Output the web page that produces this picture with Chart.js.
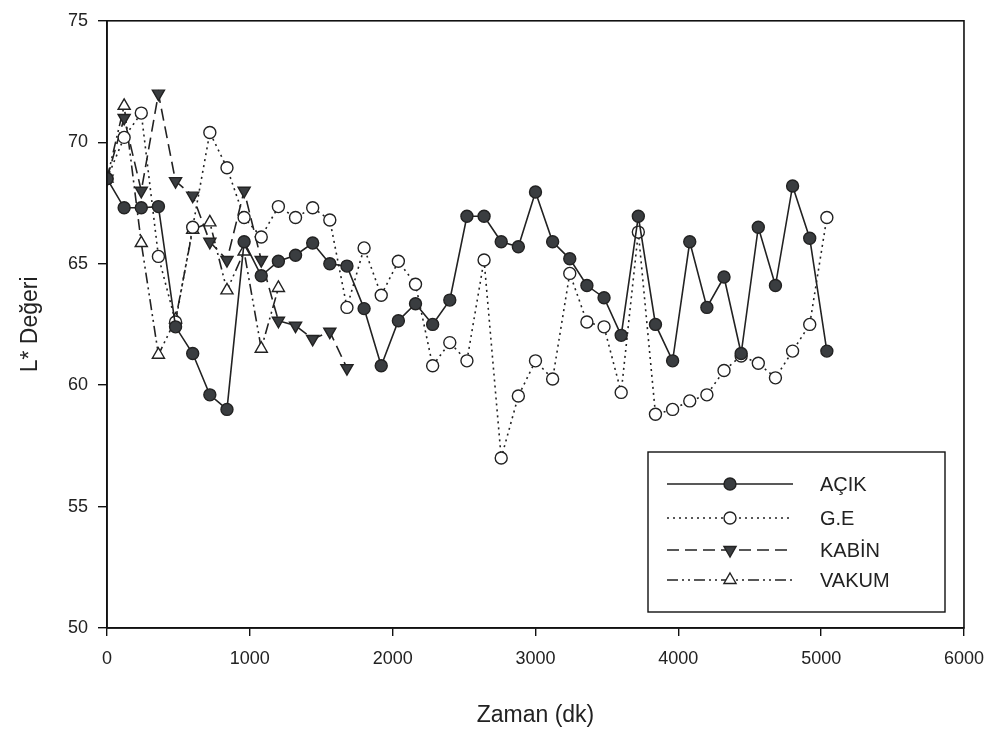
<!DOCTYPE html>
<html>
<head>
<meta charset="utf-8">
<script src="https://cdn.jsdelivr.net/npm/chart.js@4/dist/chart.umd.min.js"></script>
<style>
  html, body { margin: 0; padding: 0; background: #fff; }
  #wrap { width: 996px; height: 736px; }
</style>
</head>
<body>
<div id="wrap"><canvas id="lChart" width="996" height="736"></canvas></div>
<script>
// zaman (dk)
const zaman = [0, 120, 240, 360, 480, 600, 720, 840, 960, 1080, 1200, 1320, 1440, 1560, 1680,
  1800, 1920, 2040, 2160, 2280, 2400, 2520, 2640, 2760, 2880, 3000, 3120, 3240, 3360, 3480,
  3600, 3720, 3840, 3960, 4080, 4200, 4320, 4440, 4560, 4680, 4800, 4920, 5040];

const acik = [68.5, 67.3, 67.3, 67.35, 62.4, 61.3, 59.6, 59.0, 65.9, 64.5, 65.1, 65.35, 65.85, 65.0, 64.9,
  63.15, 60.8, 62.65, 63.35, 62.5, 63.5, 66.95, 66.95, 65.9, 65.7, 67.95, 65.9, 65.2, 64.1, 63.6,
  62.05, 66.95, 62.5, 61.0, 65.9, 63.2, 64.45, 61.3, 66.5, 64.1, 68.2, 66.05, 61.4];

const ge = [68.5, 70.2, 71.2, 65.3, 62.6, 66.5, 70.4, 68.95, 66.9, 66.1, 67.35, 66.9, 67.3, 66.8, 63.2,
  65.65, 63.7, 65.1, 64.15, 60.8, 61.75, 61.0, 65.15, 57.0, 59.55, 61.0, 60.25, 64.6, 62.6, 62.4,
  59.7, 66.3, 58.8, 59.0, 59.35, 59.6, 60.6, 61.2, 60.9, 60.3, 61.4, 62.5, 66.9];

const kabin = [68.5, 71.0, 68.0, 72.0, 68.4, 67.8, 65.9, 65.15, 68.0, 65.15, 62.65, 62.45, 61.9, 62.2, 60.7];

const vakum = [68.5, 71.5, 65.85, 61.25, 62.7, 66.4, 66.7, 63.9, 65.5, 61.5, 64.0];

const seriAdlari = ['AÇIK', 'G.E', 'KABİN', 'VAKUM'];
const xTicks = [0, 1000, 2000, 3000, 4000, 5000, 6000];
const yTicks = [50, 55, 60, 65, 70, 75];

const ink = '#222';
const fontAile = "'Liberation Sans', Arial, sans-serif";

function noktalar(deger) {
  return deger.map((v, i) => ({ x: zaman[i], y: v }));
}

const stiller = [
  { dash: [], style: 'circle', rot: 0, fill: '#3a3d40', r: 6 },
  { dash: [2, 4], style: 'circle', rot: 0, fill: '#fff', r: 6 },
  { dash: [12, 6], style: 'triangle', rot: 180, fill: '#3a3d40', r: 7 },
  { dash: [11, 4, 2, 4, 2, 4], style: 'triangle', rot: 0, fill: '#fff', r: 7 }
];

const veriler = [acik, ge, kabin, vakum];

const datasets = veriler.map((d, i) => ({
  label: seriAdlari[i],
  data: noktalar(d),
  showLine: true,
  borderColor: ink,
  borderWidth: 1.6,
  borderDash: stiller[i].dash,
  pointStyle: stiller[i].style,
  rotation: stiller[i].rot,
  pointRadius: stiller[i].r,
  pointBackgroundColor: stiller[i].fill,
  pointBorderColor: ink,
  pointBorderWidth: 1.4,
  tension: 0,
  fill: false
}));

// cerceve + lejant
const cercevePlugin = {
  id: 'cerceve',
  afterDraw(chart) {
    const c = chart.ctx;
    const a = chart.chartArea;
    c.save();
    c.strokeStyle = '#111';
    c.lineWidth = 1.6;
    c.strokeRect(a.left, a.top, a.right - a.left, a.bottom - a.top);

    // lejant kutusu
    const bx = 648, by = 452, bw = 297, bh = 160;
    c.fillStyle = '#fff';
    c.fillRect(bx, by, bw, bh);
    c.lineWidth = 1.4;
    c.strokeRect(bx, by, bw, bh);
    const satirY = [484, 518, 550, 580];
    chart.data.datasets.forEach((ds, i) => {
      const y = satirY[i];
      c.setLineDash(ds.borderDash);
      c.lineWidth = 1.6;
      c.strokeStyle = ink;
      c.beginPath();
      c.moveTo(667, y);
      c.lineTo(793, y);
      c.stroke();
      c.setLineDash([]);
      c.fillStyle = ds.pointBackgroundColor;
      c.strokeStyle = ink;
      c.lineWidth = 1.4;
      Chart.helpers.drawPoint(c, {
        pointStyle: ds.pointStyle,
        rotation: ds.rotation,
        radius: ds.pointRadius,
        borderWidth: 1.4
      }, 730, y);
      c.fillStyle = ink;
      c.font = '20px ' + fontAile;
      c.textBaseline = 'middle';
      c.textAlign = 'left';
      c.fillText(ds.label, 820, y + 1);
    });
    c.restore();
  }
};

new Chart(document.getElementById('lChart'), {
  type: 'scatter',
  data: { datasets: datasets },
  plugins: [cercevePlugin],
  options: {
    responsive: false,
    animation: false,
    layout: { padding: { top: 16, right: 29, left: 0, bottom: 0 } },
    plugins: {
      legend: { display: false },
      tooltip: { enabled: false }
    },
    scales: {
      x: {
        type: 'linear',
        min: 0,
        max: 6000,
        afterFit(s) { s.height = 108; },
        afterBuildTicks(s) { s.ticks = xTicks.map(v => ({ value: v })); },
        grid: { display: true, drawOnChartArea: false, drawTicks: true, tickLength: 8, color: '#111', lineWidth: 1.4 },
        border: { display: true, color: '#111', width: 1.6 },
        ticks: { color: ink, padding: 12, font: { family: fontAile, size: 18 }, callback: v => String(v) },
        title: { display: true, text: 'Zaman (dk)', color: ink, font: { family: fontAile, size: 23 }, padding: { top: 0, bottom: 7 } }
      },
      y: {
        min: 50,
        max: 75,
        afterFit(s) { s.width = 107; },
        afterBuildTicks(s) { s.ticks = yTicks.map(v => ({ value: v })); },
        grid: { display: true, drawOnChartArea: false, drawTicks: true, tickLength: 9, color: '#111', lineWidth: 1.4 },
        border: { display: true, color: '#111', width: 1.6 },
        ticks: { color: ink, padding: 10, font: { family: fontAile, size: 18 }, callback: v => String(v) },
        title: { display: true, text: 'L* Değeri', color: ink, font: { family: fontAile, size: 23 }, padding: { top: 17, bottom: 0 } }
      }
    }
  }
});
</script>
</body>
</html>
